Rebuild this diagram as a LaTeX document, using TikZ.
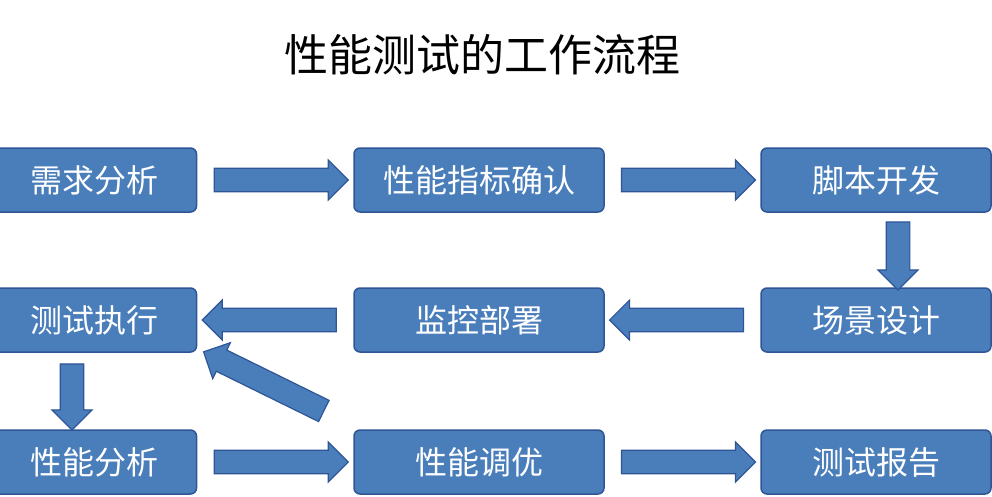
\documentclass[tikz,border=0pt]{standalone}
\usepackage{fontspec}
\setmainfont{Noto Sans CJK SC}
\usetikzlibrary{shapes.arrows,calc}
\definecolor{boxblue}{HTML}{4A7EBB}
\definecolor{boxline}{HTML}{2F5597}
\tikzset{
  stepbox/.style={draw=boxline,line width=1.5pt,fill=boxblue,rounded corners=6pt,
    minimum height=64pt,text=white,font=\fontsize{32}{36}\selectfont},
  blockarrow/.style={single arrow,draw=boxline,line width=1.2pt,fill=boxblue,
    minimum width=40pt,single arrow head extend=8pt,inner xsep=0pt,inner ysep=11pt,
    sloped,allow upside down}
}
\begin{document}
\begin{tikzpicture}[x=1pt,y=-1pt]
   \useasboundingbox (0,0) rectangle (992,496);
   % Title
   \node (title) at (482,55) {\fontsize{44}{48}\selectfont 性能测试的工作流程};
   % Row 1
   \node[stepbox,minimum width=205pt] (req) at (94,180) {需求分析};
   \node[stepbox,minimum width=250pt] (idx) at (479,180) {性能指标确认};
   \node[stepbox,minimum width=230pt] (dev) at (876,180) {脚本开发};
   % Row 2
   \node[stepbox,minimum width=205pt] (run) at (94,320) {测试执行};
   \node[stepbox,minimum width=250pt] (mon) at (479,320) {监控部署};
   \node[stepbox,minimum width=230pt] (scn) at (876,320) {场景设计};
   % Row 3
   \node[stepbox,minimum width=205pt] (ana) at (94,462) {性能分析};
   \node[stepbox,minimum width=250pt] (tun) at (479,462) {性能调优};
   \node[stepbox,minimum width=230pt] (rep) at (876,462) {测试报告};
   % Arrows
   \path (req.east) -- (idx.west) node[midway,blockarrow,minimum height=134pt] (a1) {};
   \path (idx.east) -- (dev.west) node[midway,blockarrow,minimum height=134pt] (a2) {};
   \path ($(dev.south)+(22,0)$) -- ($(scn.north)+(22,0)$) node[midway,blockarrow,minimum height=68pt] (a3) {};
   \path (scn.west) -- (mon.east) node[midway,blockarrow,minimum height=134pt] (a4) {};
   \path (mon.west) -- (run.east) node[midway,blockarrow,minimum height=134pt] (a5) {};
   \path ($(run.south)+(-22,0)$) -- ($(ana.north)+(-22,0)$) node[midway,blockarrow,minimum height=66pt] (a6) {};
   \path (ana.east) -- (tun.west) node[midway,blockarrow,minimum height=134pt] (a7) {};
   \path (tun.east) -- (rep.west) node[midway,blockarrow,minimum height=134pt] (a8) {};
   \path (330,414) -- (208,354) node[midway,blockarrow,minimum height=134pt] (a9) {};
\end{tikzpicture}
\end{document}
